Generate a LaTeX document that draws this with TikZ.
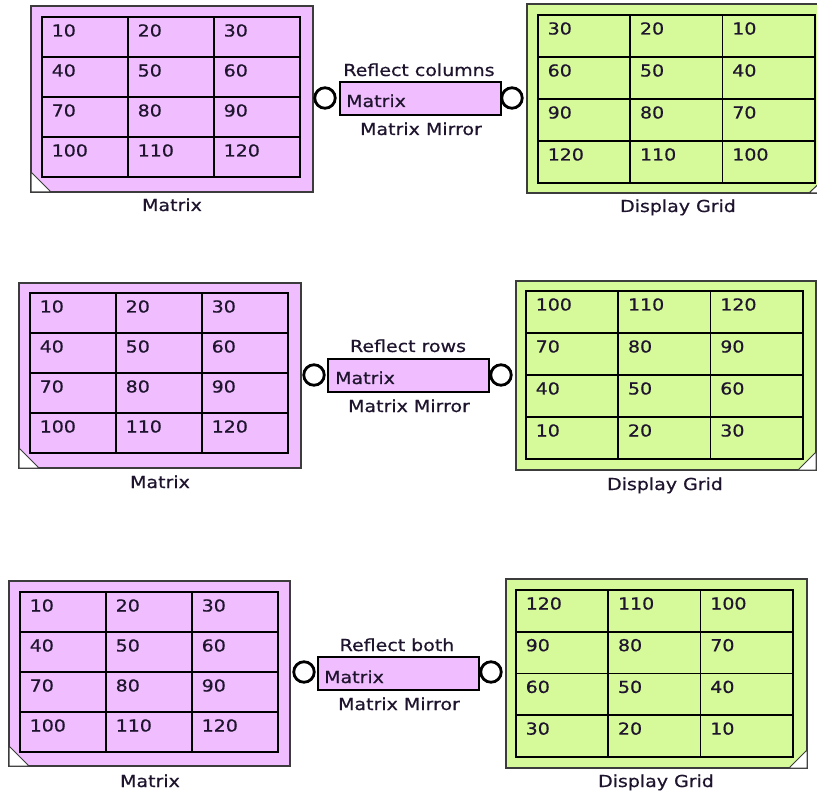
\documentclass[tikz,border=0pt]{standalone}
\usepackage{fontspec}
\setmainfont{DejaVu Sans}[FakeStretch=1.15,FakeBold=0.6]
\definecolor{mpink}{RGB}{240,190,255}
\definecolor{dgreen}{RGB}{214,250,154}
\definecolor{txt}{RGB}{30,20,45}
\definecolor{bord}{RGB}{60,60,60}
\tikzset{
  gridline/.style={line width=1.7pt, draw=black},
  outerbox/.style={draw=bord, line width=1.4pt, inner sep=0pt, outer sep=0pt, anchor=north west},
  celltext/.style={anchor=base west, inner sep=0pt, text=txt, font=\fontsize{16.5}{19}\selectfont},
  lbl/.style={anchor=base, inner sep=0pt, text=txt, font=\fontsize{16.5}{19}\selectfont},
  mirrorbox/.style={draw=black, line width=1.4pt, fill=mpink, inner sep=0pt, outer sep=0pt, anchor=north west, minimum width=161pt, minimum height=33pt},
  port/.style={circle, draw=black, line width=2.8pt, fill=white, minimum size=20.5pt, inner sep=0pt},
  corner/.style={fill=white, draw=bord, line width=1pt}
}
\newcommand\cellgrid[6]{%
  \draw[gridline] (#2,#3) rectangle ({#2+3*#4},{#3+4*#5});
  \foreach \k in {1,2}{\draw[gridline] ({#2+\k*#4},#3) -- ({#2+\k*#4},{#3+4*#5});}
  \foreach \k in {1,2,3}{\draw[gridline] (#2,{#3+\k*#5}) -- ({#2+3*#4},{#3+\k*#5});}
  \foreach \v [count=\i from 0] in {#6}{%
    \pgfmathtruncatemacro\cc{mod(\i,3)}%
    \pgfmathtruncatemacro\rr{div(\i,3)}%
    \node[celltext] (#1-\i) at ({#2+\cc*#4+9.5},{#3+\rr*#5+19.5}) {\v};}%
}
\begin{document}
\begin{tikzpicture}[x=1pt,y=-1pt]
\useasboundingbox (0,0) rectangle (817,794);
\clip (0,0) rectangle (817,794);
\fill[white] (0,0) rectangle (817,794);

% ---------- Row 1 ----------
\node[outerbox, fill=mpink, minimum width=282pt, minimum height=186pt] (mat1) at (31,6) {};
\filldraw[corner] (31,172) -- (31,192) -- (51,192) -- cycle;
\cellgrid{m1}{42}{17}{86}{40}{10,20,30,40,50,60,70,80,90,100,110,120}
\node[lbl] (mat1lbl) at (172,211) {Matrix};

\node[mirrorbox] (mir1) at (340,82) {};
\node[celltext] (mir1txt) at (346,107) {Matrix};
\node[lbl] (mir1top) at (419,76) {Reflect columns};
\node[lbl] (mir1bot) at (421,135) {Matrix Mirror};
\node[port] (mir1in) at (325,98) {};
\node[port] (mir1out) at (512,98) {};

\node[outerbox, fill=dgreen, minimum width=300pt, minimum height=189pt] (dg1) at (527,4) {};
\filldraw[corner] (809,193) -- (827,193) -- (827,176) -- cycle;
\cellgrid{d1}{538}{15}{92.3}{42}{30,20,10,60,50,40,90,80,70,120,110,100}
\node[lbl] (dg1lbl) at (678,212) {Display Grid};

% ---------- Row 2 ----------
\node[outerbox, fill=mpink, minimum width=282pt, minimum height=185pt] (mat2) at (19,283) {};
\filldraw[corner] (19,448) -- (19,468) -- (39,468) -- cycle;
\cellgrid{m2}{30}{293}{86}{40}{10,20,30,40,50,60,70,80,90,100,110,120}
\node[lbl] (mat2lbl) at (160,488) {Matrix};

\node[mirrorbox] (mir2) at (328,359) {};
\node[celltext] (mir2txt) at (335,384) {Matrix};
\node[lbl] (mir2top) at (408,352) {Reflect rows};
\node[lbl] (mir2bot) at (409,412) {Matrix Mirror};
\node[port] (mir2in) at (314,375) {};
\node[port] (mir2out) at (501,375) {};

\node[outerbox, fill=dgreen, minimum width=300pt, minimum height=189pt] (dg2) at (516,281) {};
\filldraw[corner] (798,470) -- (816,470) -- (816,452) -- cycle;
\cellgrid{d2}{526}{291}{92.3}{42}{100,110,120,70,80,90,40,50,60,10,20,30}
\node[lbl] (dg2lbl) at (665,490) {Display Grid};

% ---------- Row 3 ----------
\node[outerbox, fill=mpink, minimum width=281pt, minimum height=185pt] (mat3) at (9,581) {};
\filldraw[corner] (9,746) -- (9,766) -- (29,766) -- cycle;
\cellgrid{m3}{20}{592}{86}{40}{10,20,30,40,50,60,70,80,90,100,110,120}
\node[lbl] (mat3lbl) at (150,787) {Matrix};

\node[mirrorbox] (mir3) at (318,657) {};
\node[celltext] (mir3txt) at (324,683) {Matrix};
\node[lbl] (mir3top) at (397,651) {Reflect both};
\node[lbl] (mir3bot) at (399,710) {Matrix Mirror};
\node[port] (mir3in) at (304,672) {};
\node[port] (mir3out) at (491,672) {};

\node[outerbox, fill=dgreen, minimum width=301pt, minimum height=189pt] (dg3) at (506,579) {};
\filldraw[corner] (789,768) -- (807,768) -- (807,750) -- cycle;
\cellgrid{d3}{516}{590}{92.3}{41.7}{120,110,100,90,80,70,60,50,40,30,20,10}
\node[lbl] (dg3lbl) at (656,787) {Display Grid};
\end{tikzpicture}
\end{document}
